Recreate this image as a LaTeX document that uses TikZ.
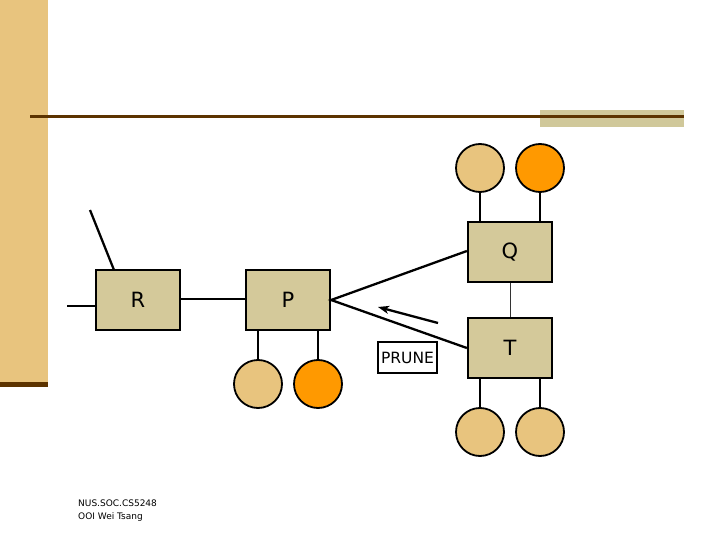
\documentclass[tikz,border=0pt]{standalone}
\usepackage{fontspec}
\setmainfont{DejaVu Sans}
\usetikzlibrary{arrows.meta}
\definecolor{barcol}{HTML}{E8C47E}
\definecolor{darkline}{HTML}{5C3300}
\definecolor{boxfill}{HTML}{D4C99A}
\definecolor{tanrect}{HTML}{D0C89A}
\definecolor{orangec}{HTML}{FF9900}
\begin{document}
\begin{tikzpicture}[x=1pt,y=-1pt,
  blk/.style={draw=black,line width=2.3pt,fill=boxfill,minimum width=84pt,minimum height=60pt,inner sep=0pt,font=\fontsize{21}{24}\selectfont},
  lightc/.style={circle,draw=black,line width=1.8pt,fill=barcol,minimum size=48pt,inner sep=0pt},
  orc/.style={circle,draw=black,line width=1.8pt,fill=orangec,minimum size=48pt,inner sep=0pt},
  conn/.style={line width=2.3pt,black},
  foot/.style={font=\fontsize{9}{10}\selectfont,anchor=base west,inner sep=0pt}]
\useasboundingbox (0,0) rectangle (720,540);
\fill[white] (0,0) rectangle (720,540);
% decoration
\fill[barcol] (0,0) rectangle (48,387);
\fill[darkline] (0,382) rectangle (48,387);
\fill[tanrect] (540,110) rectangle (684,127);
\fill[darkline] (30,115.5) rectangle (684,118.5);
% nodes
\node[blk] (R) at (138,300) {R};
\node[blk] (P) at (288,300) {P};
\node[blk] (Q) at (510,252) {Q};
\node[blk] (T) at (510,348) {T};
\node[lightc] (p1) at (258,384) {};
\node[orc] (p2) at (318,384) {};
\node[lightc] (q1) at (480,168) {};
\node[orc] (q2) at (540,168) {};
\node[lightc] (t1) at (480,432) {};
\node[lightc] (t2) at (540,432) {};
\node[draw=black,line width=1.3pt,minimum width=59pt,minimum height=31pt,inner sep=0pt,font=\fontsize{15.5}{18}\selectfont] (prune) at (407.5,357.5) {PRUNE};
\coordinate (rl) at (67,306);
\coordinate (rs) at (90,210);
\coordinate (a1) at (438,323);
\coordinate (a2) at (378,307);
% connectors
\draw[conn] (rl) -- (R.west |- rl);
\draw[conn] (rs) -- (114,270);
\draw[conn] (R.east |- 0,299) -- (P.west |- 0,299);
\draw[conn] (P.south -| p1) -- (p1.north);
\draw[conn] (P.south -| p2) -- (p2.north);
\draw[conn] (q1.south) -- (Q.north -| q1);
\draw[conn] (q2.south) -- (Q.north -| q2);
\draw[conn] (T.south -| t1) -- (t1.north);
\draw[conn] (T.south -| t2) -- (t2.north);
\draw[line width=1pt,black!80] (Q.south) -- (T.north);
\draw[conn] (Q.west |- 0,251) -- (P.east) -- (T.west |- 0,348);
\draw[conn,-{Stealth[length=11pt,width=8pt,inset=3pt]}] (a1) -- (a2);
% footer
\node[foot] (f1) at (78,506) {NUS.SOC.CS5248};
\node[foot] (f2) at (78,519) {OOI Wei Tsang};
\end{tikzpicture}
\end{document}
